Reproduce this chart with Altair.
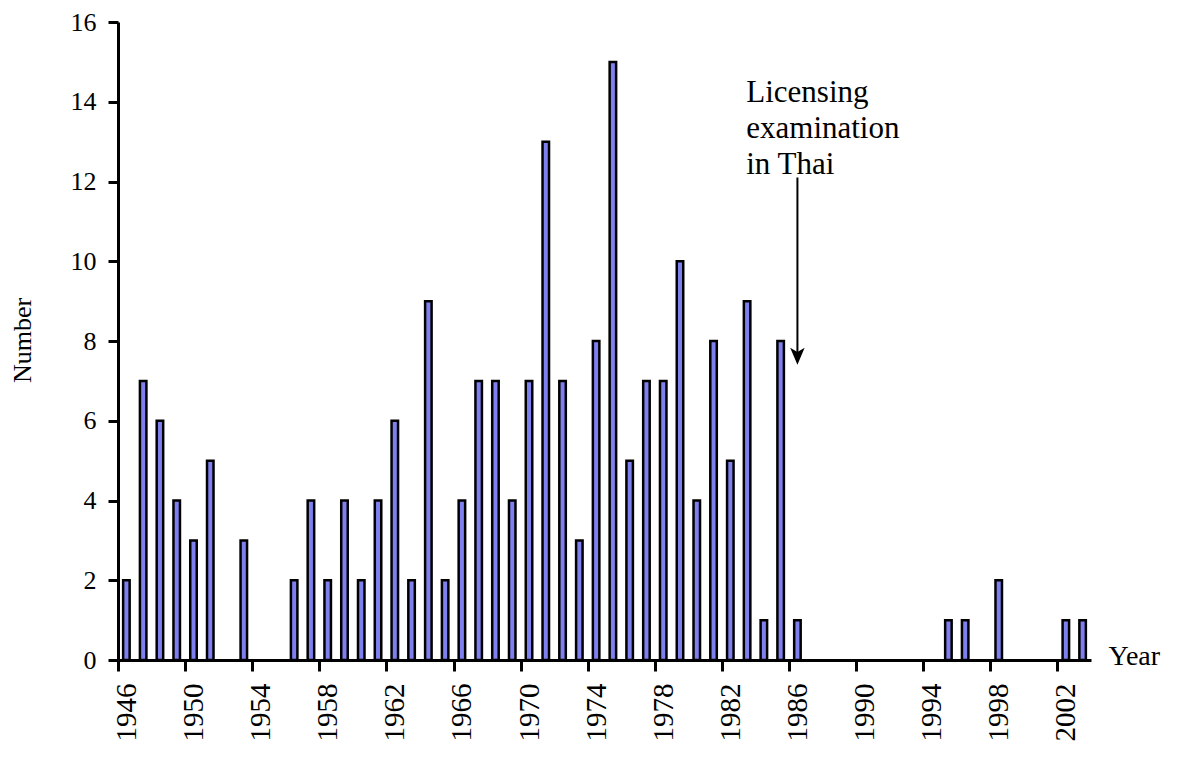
import altair as alt
import pandas as pd

years = list(range(1946, 2004))
counts = [2, 7, 6, 4, 3, 5, 0, 3, 0, 0,
          2, 4, 2, 4, 2, 4, 6, 2, 9, 2,
          4, 7, 7, 4, 7, 13, 7, 3, 8, 15,
          5, 7, 7, 10, 4, 8, 5, 9, 1, 8,
          1, 0, 0, 0, 0, 0, 0, 0, 0, 1,
          1, 0, 2, 0, 0, 0, 1, 1]
y_ticks = [0, 2, 4, 6, 8, 10, 12, 14, 16]
x_bounds = [y - 0.5 for y in years] + [years[-1] + 0.5]

note_lines = ["Licensing", "examination", "in Thai"]
note_year = 1982.95
note_value = 14.0
arrow_year = 1986.0
arrow_top = 12.1
arrow_bottom = 7.62

FONT = "Liberation Serif"
W, H = 973, 638

df = pd.DataFrame({"year": years, "n": counts})

xscale = alt.Scale(domain=[years[0] - 0.5, years[-1] + 0.5], nice=False, zero=False, padding=0)
yscale = alt.Scale(domain=[0, 16], nice=False, padding=0)
step = W / len(years)

xaxis = alt.Axis(
    values=x_bounds,
    labelExpr="(datum.value + 0.5 - 1946) % 4 == 0 ? toString(datum.value + 0.5) : ''",
    labelAngle=270, labelOffset=step / 2, labelFlush=False, labelOverlap=False,
    labelBound=False, labelFont=FONT, labelFontSize=29, labelColor="black",
    labelPadding=12, tickSize=11, tickWidth=3, tickColor="black",
    domainWidth=3, domainColor="black", grid=False,
    title="Year", titleFont=FONT, titleFontSize=28, titleFontWeight="normal",
    titleColor="black", titleX=990, titleY=-4, titleAlign="left",
    titleBaseline="middle", titleAngle=0,
)
yaxis = alt.Axis(
    values=y_ticks, labelFont=FONT, labelFontSize=26, labelColor="black",
    labelPadding=12, tickSize=10, tickWidth=3, tickColor="black",
    domainWidth=3, domainColor="black", grid=False,
    title="Number", titleFont=FONT, titleFontSize=26, titleFontWeight="normal",
    titleColor="black", titleX=-96, titleY=318, titleAngle=270,
    titleAlign="center", titleBaseline="middle",
)

bars = alt.Chart(df).transform_filter("datum.n > 0").mark_bar(
    size=6.5, color="#7F7FEF", stroke="black", strokeWidth=2.5
).encode(
    x=alt.X("year:Q", scale=xscale, axis=xaxis),
    y=alt.Y("n:Q", scale=yscale, axis=yaxis),
)

note_df = pd.DataFrame({"x": [note_year], "y": [note_value], "t": ["\n".join(note_lines)]})
note = alt.Chart(note_df).mark_text(
    align="left", baseline="alphabetic", font=FONT, fontSize=31,
    lineBreak="\n", lineHeight=36, color="black"
).encode(x=alt.X("x:Q", scale=xscale), y=alt.Y("y:Q", scale=yscale), text="t:N")

arrow_df = pd.DataFrame({"x": [arrow_year], "y": [arrow_top], "y2": [arrow_bottom]})
shaft = alt.Chart(arrow_df).mark_rule(color="black", strokeWidth=2).encode(
    x=alt.X("x:Q", scale=xscale), y=alt.Y("y:Q", scale=yscale), y2="y2:Q"
)
head_df = pd.DataFrame({"x": [arrow_year], "y": [arrow_bottom]})
head = alt.Chart(head_df).mark_point(
    shape="M-0.85,-1 L0,1 L0.85,-1 L0,-0.5 Z", filled=True, color="black",
    size=290, opacity=1
).encode(x=alt.X("x:Q", scale=xscale), y=alt.Y("y:Q", scale=yscale))

chart = alt.layer(bars, note, shaft, head).properties(
    width=W, height=H,
    background="white",
    autosize=alt.AutoSizeParams(type="none"),
    padding={"left": 110, "top": 14, "right": 90, "bottom": 100},
).configure_view(stroke=None)

chart.save("out.html", embed_options={"renderer": "svg", "actions": False})
